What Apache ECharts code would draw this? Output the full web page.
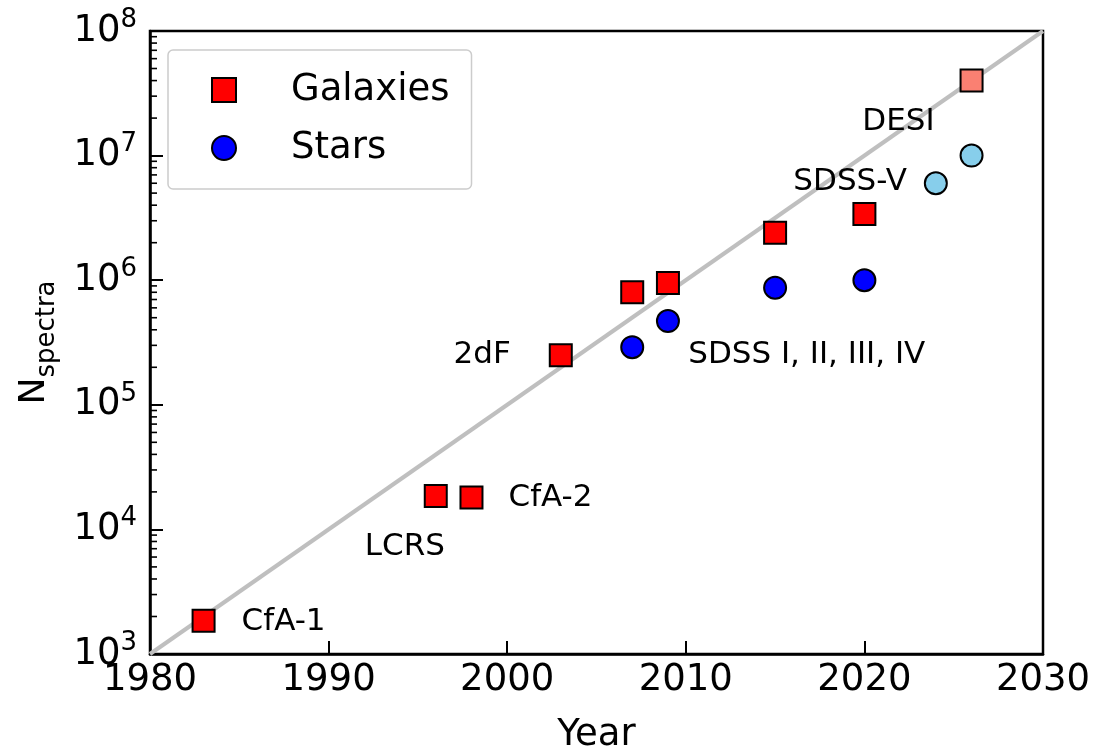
<!DOCTYPE html>
<html>
<head>
<meta charset="utf-8">
<script src="https://cdn.jsdelivr.net/npm/echarts@6/dist/echarts.min.js"></script>
<style>
  html, body { margin: 0; padding: 0; background: #fff; }
  #chart { width: 1103px; height: 748px; }
</style>
</head>
<body>
<div id="chart"></div>
<script>
// Spectroscopic survey sizes over time
const galaxyYears   = [1983, 1996, 1998, 2003, 2007, 2009, 2015, 2020, 2026];
const galaxyCounts  = [1.85e3, 1.85e4, 1.8e4, 2.5e5, 8.0e5, 9.5e5, 2.4e6, 3.4e6, 4.0e7];
const galaxyPlanned = [false, false, false, false, false, false, false, false, true];

const starYears   = [2007, 2009, 2015, 2020, 2024, 2026];
const starCounts  = [2.9e5, 4.7e5, 8.7e5, 1.0e6, 6.0e6, 1.0e7];
const starPlanned = [false, false, false, false, true, true];

// Reference growth line: one decade every ten years
const trendYears  = [1980, 2030];
const trendCounts = [1e3, 1e8];

// Axis extents
const yearMin = 1980, yearMax = 2030, yearStep = 10;
const countMin = 1e3, countMax = 1e8;

// Minor log ticks (2..9 within each decade)
const minorMantissas = [2, 3, 4, 5, 6, 7, 8, 9];
const decadeStarts = [1e3, 1e4, 1e5, 1e6, 1e7];

// Survey names, attached to a point of a series
const surveyLabels = [
  { text: 'CfA-1', series: 'gal', index: 0, align: 'left',  offset: [38, 1] },
  { text: 'LCRS',  series: 'gal', index: 1, align: 'left',  offset: [-71, 51] },
  { text: 'CfA-2', series: 'gal', index: 2, align: 'left',  offset: [37, 0] },
  { text: '2dF',   series: 'gal', index: 3, align: 'right', offset: [-50, 0] },
  { text: 'SDSS I, II, III, IV', series: 'star', index: 0, align: 'left', offset: [56, 8] },
  { text: 'SDSS-V', series: 'star', index: 4, align: 'right', offset: [-29, -1] },
  { text: 'DESI',  series: 'gal', index: 8, align: 'right', offset: [-37, 41] }
];

const FONT = 'DejaVu Sans';
const GAL_RED = '#ff0000', GAL_PLANNED = '#fa8072';
const STAR_BLUE = '#0000ff', STAR_PLANNED = '#87ceeb';

function buildPoints(years, counts, planned, key, base, light) {
  return years.map((yr, i) => {
    const item = {
      value: [yr, counts[i]],
      itemStyle: { color: planned[i] ? light : base }
    };
    const lab = surveyLabels.find(l => l.series === key && l.index === i);
    if (lab) {
      item.label = {
        show: true,
        formatter: lab.text,
        position: 'inside',
        align: lab.align,
        verticalAlign: 'middle',
        offset: lab.offset,
        color: '#000',
        fontFamily: FONT,
        fontSize: 31
      };
    }
    return item;
  });
}

const minorTicks = [];
decadeStarts.forEach(d => minorMantissas.forEach(m => minorTicks.push([yearMin, m * d])));

const chart = echarts.init(document.getElementById('chart'), null, { renderer: 'canvas' });

chart.setOption({
  animation: false,
  backgroundColor: '#fff',
  textStyle: { fontFamily: FONT },
  grid: {
    left: 150, top: 31, width: 893, height: 623,
    outerBoundsMode: 'none',
    containLabel: false,
    show: true, borderColor: '#000', borderWidth: 2.5, backgroundColor: 'transparent'
  },
  legend: {
    data: ['Galaxies', 'Stars'],
    orient: 'vertical',
    left: 168, top: 50,
    padding: [20, 22, 21, 43],
    itemWidth: 24, itemHeight: 24,
    itemGap: 18,
    backgroundColor: '#fff',
    borderColor: '#cccccc', borderWidth: 1.5, borderRadius: 5,
    textStyle: { fontFamily: FONT, fontSize: 37, color: '#000', lineHeight: 40, padding: [0, 0, 0, 50] }
  },
  xAxis: {
    type: 'value',
    min: yearMin, max: yearMax, interval: yearStep,
    name: 'Year', nameLocation: 'middle', nameGap: 63,
    nameTextStyle: { fontFamily: FONT, fontSize: 37, color: '#000' },
    axisLine: { lineStyle: { color: '#000', width: 2.5 } },
    axisTick: { inside: true, length: 13, lineStyle: { color: '#000', width: 2 } },
    axisLabel: { fontFamily: FONT, fontSize: 37, color: '#000', margin: 8, formatter: v => String(v) },
    splitLine: { show: false }
  },
  yAxis: {
    type: 'log', logBase: 10,
    min: countMin, max: countMax,
    name: '{n|N}{s|spectra}', nameLocation: 'middle', nameRotate: 90, nameGap: 90,
    nameTextStyle: {
      rich: {
        n: { fontFamily: FONT, fontSize: 36, lineHeight: 50, verticalAlign: 'middle', color: '#000' },
        s: { fontFamily: FONT, fontSize: 26, lineHeight: 26, verticalAlign: 'bottom', color: '#000' }
      }
    },
    axisLine: { lineStyle: { color: '#000', width: 2.5 } },
    axisTick: { inside: true, length: 13, lineStyle: { color: '#000', width: 2 } },
    axisLabel: {
      margin: 13,
      formatter: v => '{b|10}{e|' + Math.round(Math.log10(v)) + '}',
      rich: {
        b: { fontFamily: FONT, fontSize: 37, lineHeight: 48, verticalAlign: 'middle', color: '#000' },
        e: { fontFamily: FONT, fontSize: 26, lineHeight: 26, verticalAlign: 'top', color: '#000' }
      }
    },
    splitLine: { show: false }
  },
  series: [
    {
      name: 'trend', type: 'line', silent: true,
      data: trendYears.map((yr, i) => [yr, trendCounts[i]]),
      showSymbol: false, symbol: 'none',
      lineStyle: { color: '#bfbfbf', width: 4 },
      z: 1
    },
    {
      name: 'minor', type: 'custom', silent: true,
      data: minorTicks,
      renderItem: (params, api) => {
        const p = api.coord([api.value(0), api.value(1)]);
        return {
          type: 'line',
          shape: { x1: p[0], y1: p[1], x2: p[0] + 7, y2: p[1] },
          style: { stroke: '#000', lineWidth: 1.6 }
        };
      },
      z: 2
    },
    {
      name: 'Galaxies', type: 'scatter',
      symbol: 'rect', symbolSize: 22,
      itemStyle: { color: GAL_RED, borderColor: '#000', borderWidth: 2, opacity: 1 },
      data: buildPoints(galaxyYears, galaxyCounts, galaxyPlanned, 'gal', GAL_RED, GAL_PLANNED),
      z: 3
    },
    {
      name: 'Stars', type: 'scatter',
      symbol: 'circle', symbolSize: 22,
      itemStyle: { color: STAR_BLUE, borderColor: '#000', borderWidth: 2, opacity: 1 },
      data: buildPoints(starYears, starCounts, starPlanned, 'star', STAR_BLUE, STAR_PLANNED),
      z: 3
    }
  ]
});
</script>
</body>
</html>
